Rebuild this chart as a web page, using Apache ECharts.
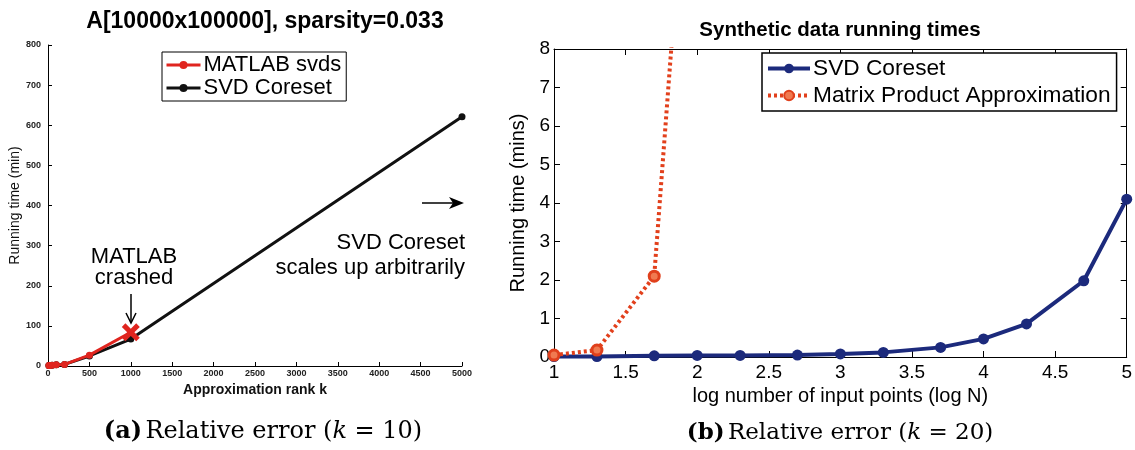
<!DOCTYPE html>
<html>
<head>
<meta charset="utf-8">
<script src="https://cdn.jsdelivr.net/npm/echarts@6/dist/echarts.min.js"></script>
<style>html,body{margin:0;padding:0;background:#fff;}#c{width:1135px;height:450px;}</style>
</head>
<body>
<div id="c"></div>
<script>
// ---- Left chart data: A[10000x100000], sparsity=0.033 ----
const rankK = [10, 20, 50, 100, 200, 500, 1000, 5000];
const coresetTimeMin = [1, 1.5, 2, 3, 4, 25, 67, 621];
const svdsRankK = [10, 20, 50, 100, 200, 500, 1000];
const svdsTimeMin = [1, 1.5, 2, 3, 4, 27, 84];
const leftXTicks = [0, 500, 1000, 1500, 2000, 2500, 3000, 3500, 4000, 4500, 5000];
const leftYTicks = [0, 100, 200, 300, 400, 500, 600, 700, 800];

// ---- Right chart data: Synthetic data running times ----
const logN = [1, 1.3, 1.7, 2, 2.3, 2.7, 3, 3.3, 3.7, 4, 4.3, 4.7, 5];
const coresetTimeMins = [0.01, 0.01, 0.03, 0.04, 0.04, 0.05, 0.08, 0.12, 0.25, 0.47, 0.86, 1.98, 4.1];
const mpaLogN = [1, 1.3, 1.7, 2];
const mpaTimeMins = [0.05, 0.18, 2.1, 17];
const rightXTicks = [1, 1.5, 2, 2.5, 3, 3.5, 4, 4.5, 5];
const rightYTicks = [0, 1, 2, 3, 4, 5, 6, 7, 8];

const SANS = 'Liberation Sans, Arial, sans-serif';
const SERIF = 'DejaVu Serif, serif';
const CROSS = 'path://M0,2 L2,0 L5,3 L8,0 L10,2 L7,5 L10,8 L8,10 L5,7 L2,10 L0,8 L3,5 Z';

const zip = (xs, ys) => xs.map((x, i) => [x, ys[i]]);
const svdsData = zip(svdsRankK, svdsTimeMin).map((p, i, a) =>
  i === a.length - 1 ? { value: p, symbol: CROSS, symbolSize: 18 } : p);

const chart = echarts.init(document.getElementById('c'), null, { renderer: 'canvas' });

const axisBase = {
  axisLine: { show: true, onZero: false, lineStyle: { color: '#000', width: 1 } },
  axisTick: { show: true, inside: true, length: 4, lineStyle: { color: '#000' } },
  splitLine: { show: false }
};
const plain = v => String(v);

chart.setOption({
  backgroundColor: '#fff',
  animation: false,
  grid: [
    { left: 48, top: 45, right: 673, bottom: 84 },
    { left: 554, top: 49, right: 6, bottom: 93 }
  ],
  xAxis: [
    Object.assign({}, axisBase, {
      gridIndex: 0, type: 'value', min: leftXTicks[0], max: leftXTicks[leftXTicks.length - 1],
      interval: leftXTicks[1] - leftXTicks[0],
      axisLabel: { fontFamily: SANS, fontSize: 9, fontWeight: 'bold', color: '#222', margin: 3, formatter: plain },
      name: 'Approximation rank k', nameLocation: 'middle', nameGap: 14,
      nameTextStyle: { fontFamily: SANS, fontSize: 14, fontWeight: 'bold', color: '#111' }
    }),
    Object.assign({}, axisBase, {
      gridIndex: 1, type: 'value', min: rightXTicks[0], max: rightXTicks[rightXTicks.length - 1],
      interval: 0.5,
      axisTick: { show: true, inside: true, length: 6, lineStyle: { color: '#000' } },
      axisLabel: { fontFamily: SANS, fontSize: 19, color: '#000', margin: 6, formatter: plain },
      name: 'log number of input points (log N)', nameLocation: 'middle', nameGap: 29,
      nameTextStyle: { fontFamily: SANS, fontSize: 20, color: '#000' }
    }),
    Object.assign({}, axisBase, {
      gridIndex: 1, type: 'value', position: 'top', min: 1, max: 5, interval: 0.5,
      axisTick: { show: true, inside: true, length: 6, lineStyle: { color: '#000' } },
      axisLabel: { show: false }
    })
  ],
  yAxis: [
    Object.assign({}, axisBase, {
      gridIndex: 0, type: 'value', min: leftYTicks[0], max: leftYTicks[leftYTicks.length - 1],
      interval: leftYTicks[1] - leftYTicks[0],
      axisLabel: { fontFamily: SANS, fontSize: 9, fontWeight: 'bold', color: '#222', margin: 7, formatter: plain },
      name: 'Running time (min)', nameLocation: 'middle', nameGap: 25,
      nameTextStyle: { fontFamily: SANS, fontSize: 14, color: '#111' }
    }),
    Object.assign({}, axisBase, {
      gridIndex: 1, type: 'value', min: rightYTicks[0], max: rightYTicks[rightYTicks.length - 1],
      interval: 1,
      axisTick: { show: true, inside: true, length: 6, lineStyle: { color: '#000' } },
      axisLabel: { fontFamily: SANS, fontSize: 19, color: '#000', margin: 4, formatter: plain },
      name: 'Running time (mins)', nameLocation: 'middle', nameGap: 19,
      nameTextStyle: { fontFamily: SANS, fontSize: 20, color: '#000' }
    }),
    Object.assign({}, axisBase, {
      gridIndex: 1, type: 'value', position: 'right', min: 0, max: 8, interval: 1,
      axisTick: { show: true, inside: true, length: 6, lineStyle: { color: '#000' } },
      axisLabel: { show: false }
    })
  ],
  legend: [
    {
      left: 162, top: 52, orient: 'vertical', itemGap: 1, padding: [2, 5, 2, 3],
      itemWidth: 34, itemHeight: 10, borderColor: '#000', borderWidth: 1,
      backgroundColor: '#fff', selectedMode: false,
      lineStyle: { width: 3 },
      data: ['MATLAB svds', 'SVD Coreset'],
      textStyle: { fontFamily: SANS, fontSize: 22, color: '#000', padding: [0, 0, 0, -2] }
    },
    {
      left: 762, top: 53, orient: 'vertical', itemGap: 4, padding: [4, 6, 4, 4],
      itemWidth: 42, itemHeight: 12, borderColor: '#000', borderWidth: 1.5,
      backgroundColor: '#fff', selectedMode: false,
      lineStyle: { width: 4 },
      data: ['SVD Coreset ', 'Matrix Product Approximation'],
      formatter: n => n.trim(),
      textStyle: { fontFamily: SANS, fontSize: 22.7, color: '#000', padding: [0, 0, 0, -2] }
    }
  ],
  series: [
    {
      name: 'SVD Coreset', type: 'line', xAxisIndex: 0, yAxisIndex: 0,
      data: zip(rankK, coresetTimeMin), symbol: 'circle', symbolSize: 7,
      lineStyle: { color: '#111', width: 3 }, itemStyle: { color: '#111' }, z: 2
    },
    {
      name: 'MATLAB svds', type: 'line', xAxisIndex: 0, yAxisIndex: 0,
      data: svdsData, symbol: 'circle', symbolSize: 7,
      lineStyle: { color: '#e0251f', width: 3 }, itemStyle: { color: '#e0251f' }, z: 3
    },
    {
      name: 'SVD Coreset ', type: 'line', xAxisIndex: 1, yAxisIndex: 1,
      data: zip(logN, coresetTimeMins), symbol: 'circle', symbolSize: 11,
      lineStyle: { color: '#1c2a7c', width: 4 }, itemStyle: { color: '#1c2a7c' }, z: 2
    },
    {
      name: 'Matrix Product Approximation', type: 'line', xAxisIndex: 1, yAxisIndex: 1,
      data: zip(mpaLogN, mpaTimeMins), symbol: 'circle', symbolSize: 10, clip: true,
      lineStyle: { color: '#e2401c', width: 4, type: [3, 3] },
      itemStyle: { color: '#f07a50', borderColor: '#e0401c', borderWidth: 3 }, z: 3
    }
  ],
  graphic: [
    { type: 'text', x: 265, y: 22, style: { text: 'A[10000x100000], sparsity=0.033', font: 'bold 23px ' + SANS, fill: '#000', align: 'center', verticalAlign: 'middle' } },
    { type: 'text', x: 840, y: 30, style: { text: 'Synthetic data running times', font: 'bold 20.5px ' + SANS, fill: '#000', align: 'center', verticalAlign: 'middle' } },
    { type: 'text', x: 134, y: 257, style: { text: 'MATLAB', font: '22px ' + SANS, fill: '#000', align: 'center', verticalAlign: 'middle' } },
    { type: 'text', x: 134, y: 278, style: { text: 'crashed', font: '22px ' + SANS, fill: '#000', align: 'center', verticalAlign: 'middle' } },
    { type: 'line', shape: { x1: 131, y1: 294, x2: 131, y2: 322 }, style: { stroke: '#000', lineWidth: 1.5 } },
    { type: 'polyline', shape: { points: [[126, 313], [131, 323], [136, 313]] }, style: { stroke: '#000', lineWidth: 1.5, fill: null } },
    { type: 'text', x: 465, y: 243, style: { text: 'SVD Coreset', font: '22px ' + SANS, fill: '#000', align: 'right', verticalAlign: 'middle' } },
    { type: 'text', x: 465, y: 268, style: { text: 'scales up arbitrarily', font: '22px ' + SANS, fill: '#000', align: 'right', verticalAlign: 'middle' } },
    { type: 'line', shape: { x1: 422, y1: 203, x2: 455, y2: 203 }, style: { stroke: '#000', lineWidth: 1.5 } },
    { type: 'polygon', shape: { points: [[464, 203], [449, 197], [453, 203], [449, 209]] }, style: { fill: '#000' } },
    { type: 'text', x: 263, y: 432, style: {
        text: '{b|(a)} {n|Relative error (}{i|k}{n| = 10)}', align: 'center', verticalAlign: 'middle',
        rich: {
          b: { font: 'bold 24px ' + SERIF, fill: '#000' },
          n: { font: '24px ' + SERIF, fill: '#000' },
          i: { font: 'italic 24px ' + SERIF, fill: '#000' }
        } } },
    { type: 'text', x: 840, y: 433, style: {
        text: '{b|(b)} {n|Relative error (}{i|k}{n| = 20)}', align: 'center', verticalAlign: 'middle',
        rich: {
          b: { font: 'bold 23px ' + SERIF, fill: '#000' },
          n: { font: '23px ' + SERIF, fill: '#000' },
          i: { font: 'italic 23px ' + SERIF, fill: '#000' }
        } } }
  ]
});
</script>
</body>
</html>
